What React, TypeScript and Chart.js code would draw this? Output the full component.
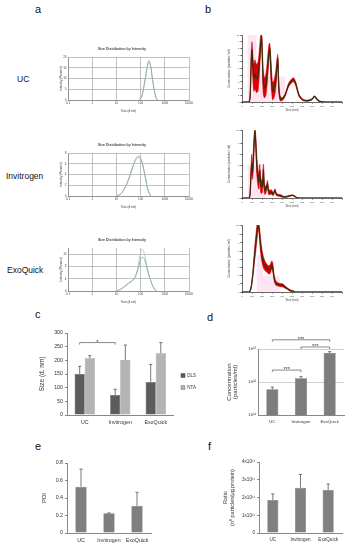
import React, { useEffect, useRef } from 'react';
import { Chart, registerables } from 'chart.js';
Chart.register(...registerables);

const FONT = "'Liberation Sans', Arial, Helvetica, sans-serif";
Chart.defaults.font.family = FONT;
Chart.defaults.color = '#444';

// ---------- shared ----------
const groups = ['UC', 'Invitrogen', 'ExoQuick'];

// ---------- panel a : DLS size distribution by intensity ----------
const dlsXTicks = [0.1, 1, 10, 100, 1000, 10000];
const ucDlsSize = [90, 110, 130, 160, 190, 220, 255, 300, 360, 430, 500];
const ucDlsA = [0, 1.5, 5, 11, 16, 18.3, 16.5, 11, 5, 1.2, 0];
const ucDlsB = [0, 1.3, 4.6, 10.4, 15.2, 17.3, 15.8, 10.8, 5.2, 1.4, 0];
const invDlsSize = [10, 15, 22, 32, 45, 62, 80, 100, 125, 160, 200, 260];
const invDlsA = [0, 0.4, 1.5, 3.2, 5.2, 6.8, 7.4, 7.0, 5.6, 3.2, 1.1, 0];
const invDlsB = [0, 0.4, 1.4, 3.0, 5.0, 6.6, 7.1, 6.9, 5.6, 3.4, 1.3, 0];
const exoDlsSize = [10, 15, 22, 32, 45, 60, 80, 100, 120, 150, 200, 280, 380, 460];
const exoDlsA = [0, 0.6, 1.6, 2.6, 3.4, 4.6, 7.4, 10.2, 11.0, 10.0, 6.3, 2.8, 0.6, 0];
const exoDlsB = [0, 0.5, 1.4, 2.4, 3.2, 4.6, 8.4, 12.6, 13.6, 11.5, 6.5, 2.6, 0.5, 0];

// ---------- panel b : NTA ----------
const ucNtaSize = [0, 70, 82, 92, 100, 108, 118, 130, 145, 160, 172, 185, 195, 203, 212, 225, 240, 255, 268, 278, 290, 305, 320, 335, 348, 358, 367, 380, 400, 430, 465, 500, 518, 540, 570, 610, 660, 700, 725, 745, 775, 850, 1000];
const ucNtaMean = [0, 0, 1.2, 6.0, 7.8, 5.4, 3.6, 4.1, 3.5, 3.8, 5.6, 8.4, 9.8, 7.0, 3.0, 2.1, 2.6, 4.8, 7.2, 8.0, 4.6, 1.6, 1.9, 3.0, 5.0, 6.5, 2.5, 0.6, 0.4, 1.0, 2.5, 3.2, 3.3, 2.6, 1.0, 0.3, 0.2, 0.4, 0.85, 0.5, 0.1, 0, 0];
const ucNtaSd = [0, 0, 0.4, 1.5, 1.2, 1.9, 2.0, 2.2, 2.1, 2.2, 2.0, 1.4, 0.8, 1.6, 1.8, 1.5, 1.6, 1.7, 1.3, 0.8, 1.7, 1.3, 1.3, 1.4, 1.2, 0.6, 0.9, 0.4, 0.2, 0.2, 0.3, 0.3, 0.3, 0.3, 0.2, 0.1, 0.1, 0.1, 0.1, 0.1, 0.05, 0, 0];
const ucPinkX = [55, 145, 245, 430, 590];
const ucPinkY = [8.3, 10, 5, 3.8, 0];

const invNtaSize = [0, 70, 80, 90, 98, 106, 114, 122, 130, 138, 148, 160, 170, 178, 186, 196, 206, 214, 222, 230, 242, 255, 265, 278, 295, 312, 330, 345, 365, 390, 420, 460, 500, 520, 545, 580, 1000];
const invNtaMean = [0, 0, 0.3, 2.2, 3.1, 2.4, 3.6, 5.2, 6.1, 5.0, 3.0, 1.8, 1.5, 2.5, 1.2, 1.0, 1.2, 2.6, 1.0, 0.7, 0.8, 1.3, 0.6, 0.5, 0.55, 0.35, 0.7, 0.3, 0.25, 0.2, 0.1, 0.15, 0.25, 0.2, 0.05, 0, 0];
const invNtaSd = [0, 0, 0.1, 0.7, 0.9, 0.7, 0.9, 0.7, 0.3, 0.7, 0.9, 0.8, 0.7, 0.6, 0.7, 0.6, 0.6, 0.5, 0.5, 0.4, 0.3, 0.3, 0.3, 0.2, 0.2, 0.15, 0.15, 0.1, 0.1, 0.1, 0.05, 0.05, 0.05, 0.05, 0, 0, 0];
const invPinkX = [60, 230, 380];
const invPinkY = [6.2, 3, 0];

const exoNtaSize = [0, 70, 80, 95, 110, 125, 140, 155, 165, 172, 185, 200, 215, 230, 250, 270, 285, 298, 308, 318, 330, 345, 365, 385, 410, 430, 455, 480, 510, 540, 1000];
const exoNtaMean = [0, 0, 0.1, 0.8, 2.4, 4.4, 6.2, 7.8, 8.1, 7.6, 5.8, 4.4, 3.6, 3.2, 2.9, 2.7, 2.9, 3.3, 3.0, 2.0, 1.3, 1.0, 0.9, 0.85, 0.8, 0.6, 0.4, 0.2, 0.1, 0, 0];
const exoNtaSd = [0, 0, 0.05, 0.2, 0.4, 0.8, 1.0, 0.9, 0.4, 0.7, 0.9, 0.8, 0.7, 0.6, 0.5, 0.5, 0.6, 0.5, 0.6, 0.4, 0.3, 0.25, 0.2, 0.2, 0.2, 0.15, 0.1, 0.1, 0.05, 0, 0];
const exoPinkX = [145, 210, 377, 495];
const exoPinkY = [8.2, 4.5, 2, 0];

// ---------- panel c : size ----------
const cDls = [150, 73, 121];
const cDlsErr = [28, 21, 64];
const cNta = [208, 201, 226];
const cNtaErr = [9, 55, 39];
const cSigFrom = [0];
const cSigTo = [1];
const cSigY = [265];
const cSigLabel = ['*'];

// ---------- panel d : concentration ----------
const dConc = [6e11, 1.3e12, 7.5e12];
const dConcErr = [1e11, 1.5e11, 8e11];
const dTicks = [1e11, 1e12, 1e13];
const dTickLabels = ['10\u00B9\u00B9', '10\u00B9\u00B2', '10\u00B9\u00B3'];
const dSigFrom = [0, 0, 1];
const dSigTo = [1, 2, 2];
const dSigY = [2.3e12, 1.9e13, 1.15e13];
const dSigLabel = ['***', '***', '***'];

// ---------- panel e : PDI ----------
const ePdi = [0.53, 0.225, 0.31];
const ePdiErr = [0.2, 0.005, 0.155];

// ---------- panel f : ratio ----------
const fRatio = [1.86e11, 2.55e11, 2.42e11];
const fRatioErr = [0.34e11, 0.75e11, 0.34e11];
const fTickLabels = ['0', '1x10\u00B9\u00B9', '2x10\u00B9\u00B9', '3x10\u00B9\u00B9', '4x10\u00B9\u00B9'];

// ---------- helpers ----------
const pts = (xs: number[], ys: number[]) => xs.map((x, i) => ({ x, y: ys[i] }));

const errorBarPlugin = (errs: (number[] | null)[]) => ({
  id: 'errbars',
  afterDatasetsDraw(chart: any) {
    const ctx = chart.ctx;
    const ys = chart.scales.y;
    ctx.save();
    ctx.strokeStyle = '#555';
    ctx.lineWidth = 0.8;
    errs.forEach((arr, di) => {
      if (!arr) return;
      const meta = chart.getDatasetMeta(di);
      meta.data.forEach((el: any, i: number) => {
        const v = chart.data.datasets[di].data[i] as number;
        const yb = ys.getPixelForValue(v);
        const yt = ys.getPixelForValue(v + arr[i]);
        ctx.beginPath();
        ctx.moveTo(el.x, yb);
        ctx.lineTo(el.x, yt);
        ctx.moveTo(el.x - 1.6, yt);
        ctx.lineTo(el.x + 1.6, yt);
        ctx.stroke();
      });
    });
    ctx.restore();
  },
});

const sigPlugin = (from: number[], to: number[], yv: number[], labels: string[], fontSize: number) => ({
  id: 'sig',
  afterDraw(chart: any) {
    const ctx = chart.ctx;
    const ys = chart.scales.y;
    const meta = chart.getDatasetMeta(0);
    ctx.save();
    ctx.strokeStyle = '#555';
    ctx.lineWidth = 0.7;
    ctx.fillStyle = '#333';
    ctx.font = `${fontSize}px ${FONT}`;
    ctx.textAlign = 'center';
    ctx.textBaseline = 'alphabetic';
    from.forEach((a, k) => {
      const x1 = meta.data[a].x;
      const x2 = meta.data[to[k]].x;
      const y = ys.getPixelForValue(yv[k]);
      ctx.beginPath();
      ctx.moveTo(x1, y + 2);
      ctx.lineTo(x1, y);
      ctx.lineTo(x2, y);
      ctx.lineTo(x2, y + 2);
      ctx.stroke();
      ctx.fillText(labels[k], (x1 + x2) / 2, y + 1.2);
    });
    ctx.restore();
  },
});

function dlsConfig(sizes: number[], a: number[], b: number[], yMax: number, yStep: number) {
  return {
    type: 'line',
    data: {
      datasets: [
        { data: pts(sizes, a), borderColor: '#9aa8b2', borderWidth: 1, pointRadius: 0, tension: 0.4, fill: false },
        { data: pts(sizes, b), borderColor: '#a6d6c6', borderWidth: 1, pointRadius: 0, tension: 0.4, fill: false },
      ],
    },
    options: {
      responsive: false,
      animation: false,
      layout: { padding: { right: 7 } },
      plugins: {
        legend: { display: false },
        tooltip: { enabled: false },
        title: { display: true, text: 'Size Distribution by Intensity', font: { size: 3.5 }, color: '#444', padding: { top: 3, bottom: 5.8 } },
      },
      scales: {
        x: {
          type: 'logarithmic', min: 0.1, max: 10000,
          afterBuildTicks(s: any) { s.ticks = dlsXTicks.map((v) => ({ value: v })); },
          ticks: { callback: (v: any) => String(v), font: { size: 3 }, padding: 1, maxRotation: 0, autoSkip: false, color: '#444' },
          grid: { color: '#999', lineWidth: 0.6, drawTicks: false },
          border: { color: '#777', width: 0.6 },
          title: { display: true, text: 'Size (d.nm)', font: { size: 3 }, padding: 0, color: '#444' },
          afterFit(s: any) { s.height = 13; },
        },
        y: {
          min: 0, max: yMax,
          ticks: { stepSize: yStep, font: { size: 3 }, padding: 1.5, color: '#444' },
          grid: { color: '#999', lineWidth: 0.6, drawTicks: false },
          border: { color: '#777', width: 0.6 },
          title: { display: true, text: 'Intensity (Percent)', font: { size: 3 }, padding: { top: 4, bottom: 0 }, color: '#444' },
          afterFit(s: any) { s.width = 13; },
        },
      },
    },
  };
}

function ntaConfig(sizes: number[], mean: number[], sd: number[], pinkX: number[], pinkY: number[], yMax: number) {
  const upper = mean.map((m, i) => m + sd[i]);
  const lower = mean.map((m, i) => Math.max(0, m - sd[i]));
  return {
    type: 'line',
    data: {
      datasets: [
        { data: pts(sizes, mean), order: 0, borderColor: '#3b2c0e', borderWidth: 1.2, fill: false, pointRadius: 0, tension: 0.25 },
        { data: pts(sizes, upper), order: 1, borderColor: '#d40000', borderWidth: 0.5, backgroundColor: '#e00000', fill: '+1', pointRadius: 0, tension: 0.25 },
        { data: pts(sizes, lower), order: 2, borderColor: '#d40000', borderWidth: 0.5, fill: false, pointRadius: 0, tension: 0.25 },
        { data: pts(pinkX, pinkY), order: 3, stepped: 'after', borderWidth: 0, borderColor: 'rgba(0,0,0,0)', backgroundColor: 'rgba(255,170,220,0.3)', fill: 'origin', pointRadius: 0 },
      ],
    },
    options: {
      responsive: false,
      animation: false,
      layout: { padding: { top: 7, right: 11 } },
      plugins: { legend: { display: false }, tooltip: { enabled: false } },
      scales: {
        x: {
          type: 'linear', min: 0, max: 1000,
          ticks: { stepSize: 100, callback: (v: any) => (v >= 1000 ? '' : String(v)), font: { size: 2.5 }, padding: 1, maxRotation: 0, autoSkip: false, color: '#444' },
          grid: { drawOnChartArea: false, tickLength: 1.5, color: '#555' },
          border: { color: '#444', width: 0.8 },
          title: { display: true, text: 'Size (nm)', font: { size: 3 }, padding: 0, color: '#444' },
          afterFit(s: any) { s.height = 10; },
        },
        y: {
          min: 0, max: yMax,
          ticks: { stepSize: 1, font: { size: 2.5 }, padding: 1, color: '#444' },
          grid: { drawOnChartArea: false, tickLength: 1.5, color: '#555' },
          border: { color: '#444', width: 0.8 },
          title: { display: true, text: 'Concentration (particles / ml)', font: { size: 3 }, padding: { top: 2, bottom: 0 }, color: '#444' },
          afterFit(s: any) { s.width = 17; },
        },
      },
    },
  };
}

const barXAxis = (size: number, h: number) => ({
  grid: { display: false, drawTicks: false },
  border: { color: '#888' },
  ticks: { font: { size }, padding: 4, color: '#333', maxRotation: 0, autoSkip: false },
  afterFit(s: any) { s.height = h; },
});

function cConfig() {
  return {
    type: 'bar',
    data: {
      labels: groups,
      datasets: [
        { label: 'DLS', data: cDls, backgroundColor: '#5c5c5c', borderColor: '#444', borderWidth: 0.5 },
        { label: 'NTA', data: cNta, backgroundColor: '#b4b4b4', borderColor: '#7a7a7a', borderWidth: 0.5 },
      ],
    },
    options: {
      responsive: false,
      animation: false,
      layout: { padding: { top: 13 } },
      datasets: { bar: { categoryPercentage: 0.57, barPercentage: 1 } },
      plugins: {
        legend: { position: 'right', align: 'center', labels: { boxWidth: 4, boxHeight: 4, padding: 7.5, font: { size: 4.5 }, color: '#333' } },
        tooltip: { enabled: false },
      },
      scales: {
        x: barXAxis(5.3, 15),
        y: {
          min: 0, max: 300,
          ticks: { stepSize: 50, font: { size: 5.3 }, padding: 2, color: '#333' },
          grid: { drawOnChartArea: false, tickLength: 2, color: '#888' },
          border: { color: '#888' },
          title: { display: true, text: 'Size (d. nm)', font: { size: 6.5 }, padding: { top: 8, bottom: 0 }, color: '#333' },
          afterFit(s: any) { s.width = 37; },
        },
      },
    },
    plugins: [errorBarPlugin([cDlsErr, cNtaErr]), sigPlugin(cSigFrom, cSigTo, cSigY, cSigLabel, 6)],
  };
}

function dConfig() {
  return {
    type: 'bar',
    data: { labels: groups, datasets: [{ data: dConc, backgroundColor: '#7d7d7d', borderColor: '#555', borderWidth: 0.5 }] },
    options: {
      responsive: false,
      animation: false,
      layout: { padding: { top: 19, right: 6 } },
      datasets: { bar: { categoryPercentage: 1, barPercentage: 0.42 } },
      plugins: { legend: { display: false }, tooltip: { enabled: false } },
      scales: {
        x: barXAxis(4.3, 15),
        y: {
          type: 'logarithmic', min: 1e11, max: 1e13,
          afterBuildTicks(s: any) { s.ticks = dTicks.map((v) => ({ value: v })); },
          ticks: { callback: (v: any) => dTickLabels[dTicks.indexOf(v)] ?? '', font: { size: 4.3 }, padding: 2, color: '#333', autoSkip: false },
          grid: { color: (c: any) => (c.tick && c.tick.value === 1e11 ? 'rgba(0,0,0,0)' : '#cfcfcf'), drawTicks: false },
          border: { color: '#888' },
          title: { display: true, text: ['Concentration', '(particles/ml)'], font: { size: 6, lineHeight: 1 }, padding: { top: 11.5, bottom: 0 }, color: '#333' },
          afterFit(s: any) { s.width = 43; },
        },
      },
    },
    plugins: [errorBarPlugin([dConcErr]), sigPlugin(dSigFrom, dSigTo, dSigY, dSigLabel, 5.5)],
  };
}

function eConfig() {
  return {
    type: 'bar',
    data: { labels: groups, datasets: [{ data: ePdi, backgroundColor: '#7f7f7f', borderColor: '#5a5a5a', borderWidth: 0.5 }] },
    options: {
      responsive: false,
      animation: false,
      layout: { padding: { top: 13, right: 4 } },
      datasets: { bar: { categoryPercentage: 1, barPercentage: 0.4 } },
      plugins: { legend: { display: false }, tooltip: { enabled: false } },
      scales: {
        x: barXAxis(5.3, 14),
        y: {
          min: 0, max: 0.8,
          ticks: { stepSize: 0.2, font: { size: 5.3 }, padding: 2, color: '#333' },
          grid: { drawOnChartArea: false, tickLength: 2, color: '#888' },
          border: { color: '#888' },
          title: { display: true, text: 'PDI', font: { size: 6 }, padding: { top: 11, bottom: 0 }, color: '#333' },
          afterFit(s: any) { s.width = 37; },
        },
      },
    },
    plugins: [errorBarPlugin([ePdiErr])],
  };
}

function fConfig() {
  return {
    type: 'bar',
    data: { labels: groups, datasets: [{ data: fRatio, backgroundColor: '#808080', borderColor: '#5a5a5a', borderWidth: 0.5 }] },
    options: {
      responsive: false,
      animation: false,
      layout: { padding: { top: 12, right: 5 } },
      datasets: { bar: { categoryPercentage: 1, barPercentage: 0.4 } },
      plugins: { legend: { display: false }, tooltip: { enabled: false } },
      scales: {
        x: barXAxis(4.6, 14),
        y: {
          min: 0, max: 4e11,
          ticks: { stepSize: 1e11, callback: (v: any) => fTickLabels[Math.round(v / 1e11)] ?? '', font: { size: 4.6 }, padding: 2, color: '#333' },
          grid: { drawOnChartArea: false, tickLength: 2, color: '#888' },
          border: { color: '#888' },
          title: { display: true, text: ['Ratio', '(n\u00BA particles/\u03BCg protein)'], font: { size: 5.5, lineHeight: 1.27 }, padding: { top: 10, bottom: 0 }, color: '#333' },
          afterFit(s: any) { s.width = 47; },
        },
      },
    },
    plugins: [errorBarPlugin([fRatioErr])],
  };
}

function ChartBox({ x, y, w, h, make }: { x: number; y: number; w: number; h: number; make: () => any }) {
  const ref = useRef<HTMLCanvasElement>(null);
  useEffect(() => {
    const chart = new Chart(ref.current as HTMLCanvasElement, make());
    return () => chart.destroy();
  }, [make]);
  return (
    <canvas
      ref={ref}
      width={w}
      height={h}
      style={{ position: 'absolute', left: x, top: y, width: w, height: h, display: 'block' }}
    />
  );
}

function Txt({ x, base, size, children }: { x: number; base: number; size: number; children: React.ReactNode }) {
  return (
    <div
      style={{
        position: 'absolute', left: x, top: base - size * 0.92, fontSize: size, lineHeight: `${size * 1.15}px`,
        fontFamily: FONT, color: '#111', whiteSpace: 'nowrap',
      }}
    >
      {children}
    </div>
  );
}

const mkUcDls = () => dlsConfig(ucDlsSize, ucDlsA, ucDlsB, 20, 5);
const mkInvDls = () => dlsConfig(invDlsSize, invDlsA, invDlsB, 8, 1);
const mkExoDls = () => dlsConfig(exoDlsSize, exoDlsA, exoDlsB, 14, 2);
const mkUcNta = () => ntaConfig(ucNtaSize, ucNtaMean, ucNtaSd, ucPinkX, ucPinkY, 10);
const mkInvNta = () => ntaConfig(invNtaSize, invNtaMean, invNtaSd, invPinkX, invPinkY, 6.2);
const mkExoNta = () => ntaConfig(exoNtaSize, exoNtaMean, exoNtaSd, exoPinkX, exoPinkY, 8.2);

export default function App() {
  return (
    <div style={{ position: 'absolute', left: 0, top: 0, width: 353, height: 550, background: '#fff', overflow: 'hidden' }}>
      <Txt x={35} base={13} size={11}>a</Txt>
      <Txt x={205} base={13} size={11}>b</Txt>
      <Txt x={17} base={83} size={8.5}>UC</Txt>
      <Txt x={6} base={180} size={8.5}>Invitrogen</Txt>
      <Txt x={7} base={274} size={8.5}>ExoQuick</Txt>

      <ChartBox x={55} y={44} w={141} h={69} make={mkUcDls} />
      <ChartBox x={55} y={140} w={141} h={69} make={mkInvDls} />
      <ChartBox x={55} y={235} w={141} h={69} make={mkExoDls} />

      <ChartBox x={225} y={28} w={128} h={84} make={mkUcNta} />
      <ChartBox x={225} y={123} w={128} h={85} make={mkInvNta} />
      <ChartBox x={225} y={218} w={128} h={84} make={mkExoNta} />

      <Txt x={35} base={318} size={11}>c</Txt>
      <Txt x={207} base={321} size={11}>d</Txt>
      <ChartBox x={30} y={320} w={176} h={110} make={cConfig} />
      <ChartBox x={215} y={330} w={135} h={100} make={dConfig} />

      <Txt x={35} base={450} size={11}>e</Txt>
      <Txt x={208} base={450} size={11}>f</Txt>
      <ChartBox x={30} y={450} w={125} h={97} make={eConfig} />
      <ChartBox x={212} y={450} w={135} h={97} make={fConfig} />
    </div>
  );
}
